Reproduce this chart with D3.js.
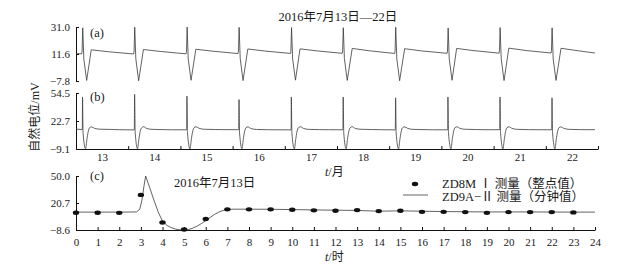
<!DOCTYPE html>
<html>
<head>
<meta charset="utf-8">
<script src="https://cdn.jsdelivr.net/npm/d3@7"></script>
<style>
  body { margin: 0; background: #fff; }
  text { font-family: "Liberation Serif", "Noto Sans CJK SC", serif; fill: #1a1a1a; }
</style>
</head>
<body>
<div id="chart"></div>
<script>
// panel (a), daily record 7.13-7.22: [day, hour, mV]
var seriesA = [
  [13, 0, 11.9], [13, 2.6, 11.7], [13, 2.8, 13.2], [13, 3.1, 30.4], [13, 3.6, 8.0], [13, 4.9, -7.4], [13, 7.0, 14.6], [13, 15, 13.2],
  [14, 2.5, 11.6], [14, 2.7, 13.0], [14, 3.0, 30.8], [14, 3.5, 8.2], [14, 4.8, -7.6], [14, 7.0, 14.8], [14, 15, 13.4],
  [15, 2.6, 11.7], [15, 2.8, 13.4], [15, 3.1, 30.9], [15, 3.6, 8.0], [15, 4.9, -7.3], [15, 7.1, 15.0], [15, 15, 13.6],
  [16, 2.5, 11.9], [16, 2.7, 13.6], [16, 3.0, 30.7], [16, 3.5, 8.4], [16, 4.8, -7.5], [16, 7.0, 15.2], [16, 15, 13.7],
  [17, 2.6, 12.0], [17, 2.8, 13.3], [17, 3.1, 30.6], [17, 3.6, 8.1], [17, 4.9, -7.2], [17, 7.0, 15.3], [17, 15, 13.8],
  [18, 2.4, 12.1], [18, 2.6, 13.8], [18, 2.9, 30.5], [18, 3.4, 8.3], [18, 4.7, -7.4], [18, 7.0, 15.6], [18, 15, 13.9],
  [19, 2.5, 12.0], [19, 2.7, 13.5], [19, 3.0, 30.8], [19, 3.5, 8.0], [19, 4.8, -7.6], [19, 7.1, 15.4], [19, 15, 13.8],
  [20, 2.6, 12.1], [20, 2.8, 13.7], [20, 3.1, 30.3], [20, 3.6, 8.2], [20, 4.9, -7.3], [20, 7.0, 15.6], [20, 15, 14.0],
  [21, 2.5, 12.2], [21, 2.7, 13.9], [21, 3.0, 30.6], [21, 3.5, 8.1], [21, 4.8, -7.5], [21, 7.0, 15.8], [21, 15, 14.1],
  [22, 2.4, 12.3], [22, 2.6, 14.0], [22, 2.9, 30.4], [22, 3.4, 8.0], [22, 4.7, -7.4], [22, 7.0, 15.7], [22, 15, 13.9], [22, 22.6, 12.3]
];

// panel (b), same days, second instrument
var seriesB = [
  [13, 0, 13.4], [13, 2.9, 13.0], [13, 3.0, 50.0], [13, 3.25, 9.0], [13, 4.4, -8.8], [13, 5.0, 1.5], [13, 5.6, 10.5], [13, 6.3, 15.2], [13, 7.2, 16.0], [13, 8.6, 14.3], [13, 11, 13.4], [13, 16, 13.1], [13, 20, 12.8],
  [14, 2.8, 12.6], [14, 2.95, 53.0], [14, 3.2, 10.0], [14, 4.3, -8.9], [14, 4.9, 1.8], [14, 5.5, 10.8], [14, 6.2, 15.0], [14, 7.1, 16.2], [14, 8.5, 14.2], [14, 11, 13.2], [14, 16, 12.9], [14, 20, 12.7],
  [15, 2.9, 12.7], [15, 3.0, 51.0], [15, 3.25, 9.5], [15, 4.4, -9.0], [15, 5.0, 1.4], [15, 5.6, 10.4], [15, 6.3, 15.1], [15, 7.2, 16.1], [15, 8.6, 14.4], [15, 11, 13.3], [15, 16, 13.0], [15, 20, 12.9],
  [16, 2.8, 12.8], [16, 2.95, 47.0], [16, 3.2, 9.2], [16, 4.3, -8.8], [16, 4.9, 1.6], [16, 5.5, 10.6], [16, 6.2, 15.3], [16, 7.1, 16.0], [16, 8.5, 14.1], [16, 11, 13.1], [16, 16, 12.8], [16, 20, 12.7],
  [17, 2.9, 12.6], [17, 3.0, 50.0], [17, 3.25, 9.4], [17, 4.4, -9.0], [17, 5.0, 1.5], [17, 5.6, 10.7], [17, 6.3, 15.2], [17, 7.2, 16.1], [17, 8.6, 14.3], [17, 11, 13.2], [17, 16, 12.9], [17, 20, 12.8],
  [18, 2.7, 12.7], [18, 2.85, 50.0], [18, 3.1, 9.6], [18, 4.2, -8.9], [18, 4.8, 1.7], [18, 5.4, 10.5], [18, 6.1, 15.1], [18, 7.0, 16.2], [18, 8.4, 14.2], [18, 11, 13.3], [18, 16, 13.0], [18, 20, 12.8],
  [19, 2.8, 12.6], [19, 2.95, 49.0], [19, 3.2, 9.3], [19, 4.3, -9.0], [19, 4.9, 1.5], [19, 5.5, 10.6], [19, 6.2, 15.2], [19, 7.1, 16.0], [19, 8.5, 14.3], [19, 11, 13.2], [19, 16, 12.9], [19, 20, 12.7],
  [20, 2.9, 12.7], [20, 3.0, 50.0], [20, 3.25, 9.5], [20, 4.4, -8.9], [20, 5.0, 1.6], [20, 5.6, 10.6], [20, 6.3, 15.3], [20, 7.2, 16.1], [20, 8.6, 14.2], [20, 11, 13.3], [20, 16, 13.0], [20, 20, 12.8],
  [21, 2.8, 12.8], [21, 2.95, 50.0], [21, 3.2, 9.4], [21, 4.3, -9.0], [21, 4.9, 1.5], [21, 5.5, 10.7], [21, 6.2, 15.2], [21, 7.1, 16.1], [21, 8.5, 14.3], [21, 11, 13.2], [21, 16, 12.9], [21, 20, 12.8],
  [22, 2.7, 12.7], [22, 2.85, 49.0], [22, 3.1, 9.5], [22, 4.2, -8.9], [22, 4.8, 1.6], [22, 5.4, 10.6], [22, 6.1, 15.2], [22, 7.0, 16.0], [22, 8.4, 14.2], [22, 11, 13.2], [22, 16, 12.9], [22, 22.6, 12.8]
];

// panel (c), 7.13 only
var hourlyValues = [10.2, 10.2, 10.0, 29.5, -0.4, -8.0, 3.3, 13.8, 13.8, 13.8, 13.4, 12.7,
                    12.3, 13.0, 11.9, 12.3, 11.1, 11.1, 10.8, 10.0, 10.8, 10.8, 10.8, 10.5];
var minuteHours  = [0, 1, 2, 2.8, 2.95, 3.05, 3.15, 3.22, 3.4, 3.6, 3.8, 4.0, 4.2, 4.4, 4.6, 4.8, 5.0, 5.2, 5.4, 5.6, 5.8, 6.0, 6.2, 6.4, 6.6, 6.8, 7.0, 7.3, 9, 11, 13, 14, 15, 17, 19, 21, 23, 24];
var minuteValues = [10.8, 10.8, 10.8, 11.0, 14.0, 24.0, 40.0, 50.0, 38.0, 24.0, 11.0, 1.0, -3.5, -6.0, -7.6, -8.4, -8.6, -8.1, -6.6, -4.4, -1.6, 1.6, 5.0, 8.2, 10.8, 12.6, 13.6, 14.0, 13.9, 13.2, 12.6, 11.8, 12.2, 11.4, 11.0, 11.0, 10.8, 10.8];

var dayLabels = ["13", "14", "15", "16", "17", "18", "19", "20", "21", "22"];
var dayBounds = [13, 14, 15, 16, 17, 18, 19, 20, 21, 22, 23];
var hourTicks = d3.range(0, 25);
var yTicksA = [-7.8, 11.6, 31.0];
var yTicksB = [-9.1, 22.7, 54.5];
var yTicksC = [-8.6, 20.7, 50.0];

var W = 622, H = 269;
var svg = d3.select("#chart").append("svg").attr("width", W).attr("height", H);
svg.append("rect").attr("width", W).attr("height", H).attr("fill", "#fff");

var xDay = d3.scaleLinear().domain([13, 23]).range([76, 598]);
var yA = d3.scaleLinear().domain([-7.8, 31.0]).range([81, 27]);
var yB = d3.scaleLinear().domain([-9.1, 54.5]).range([149, 93]);
var xHour = d3.scaleLinear().domain([0, 24]).range([76, 595]);
var yC = d3.scaleLinear().domain([-8.6, 50.0]).range([230, 176]);

var fmt = d3.format(".1f");

function styleAxis(g, size) {
  g.attr("font-family", '"Liberation Serif", serif').attr("font-size", size);
  g.selectAll("path, line").attr("stroke", "#111");
  g.selectAll("text").attr("fill", "#1a1a1a");
}

// y axes
[[yA, yTicksA], [yB, yTicksB], [yC, yTicksC]].forEach(function (p) {
  svg.append("g")
    .attr("transform", "translate(76,0)")
    .call(d3.axisLeft(p[0]).tickValues(p[1]).tickSize(-3).tickSizeOuter(0).tickPadding(6).tickFormat(fmt))
    .call(styleAxis, 11);
});

// day axis under (b)
svg.append("g")
  .attr("transform", "translate(0,149)")
  .call(d3.axisBottom(xDay).tickValues(dayBounds).tickSize(-3).tickSizeOuter(0).tickFormat(""))
  .call(styleAxis, 11);
svg.append("g")
  .attr("transform", "translate(0,149)")
  .call(d3.axisBottom(xDay).tickValues(dayLabels.map(function (d) { return +d + 0.5; }))
    .tickSize(0).tickPadding(4).tickFormat(function (d, i) { return dayLabels[i]; }))
  .call(styleAxis, 11)
  .call(function (g) { g.select(".domain").remove(); });

// hour axis under (c)
svg.append("g")
  .attr("transform", "translate(0,230)")
  .call(d3.axisBottom(xHour).tickValues(hourTicks).tickSize(-3).tickSizeOuter(0).tickPadding(8).tickFormat(d3.format("d")))
  .call(styleAxis, 11);

var lineColor = "#3a3a3a";

var lineA = d3.line()
  .x(function (d) { return xDay(d[0] + d[1] / 24); })
  .y(function (d) { return yA(d[2]); });
svg.append("path").datum(seriesA).attr("d", lineA)
  .attr("fill", "none").attr("stroke", lineColor).attr("stroke-width", 0.8);

var lineB = d3.line()
  .x(function (d) { return xDay(d[0] + d[1] / 24); })
  .y(function (d) { return yB(d[2]); })
  .curve(d3.curveMonotoneX);
svg.append("path").datum(seriesB).attr("d", lineB)
  .attr("fill", "none").attr("stroke", lineColor).attr("stroke-width", 0.8);

var lineC = d3.line()
  .x(function (d, i) { return xHour(minuteHours[i]); })
  .y(function (d) { return yC(d); });
svg.append("path").datum(minuteValues).attr("d", lineC)
  .attr("fill", "none").attr("stroke", lineColor).attr("stroke-width", 0.8);

svg.append("g").selectAll("ellipse")
  .data(hourlyValues)
  .enter()
  .append("ellipse")
  .attr("cx", function (d, i) { return xHour(i); })
  .attr("cy", function (d) { return yC(d); })
  .attr("rx", 3.2).attr("ry", 2.2)
  .attr("fill", "#111");

// texts
function label(x, y, str, size, anchor) {
  return svg.append("text").attr("x", x).attr("y", y)
    .attr("font-size", size).attr("text-anchor", anchor || "start").text(str);
}
label(338, 21, "2016年7月13日—22日", 12.5, "middle");
label(90, 37, "(a)", 12.5);
label(90, 101, "(b)", 12.5);
label(90, 180, "(c)", 12.5);
label(174, 187, "2016年7月13日", 12.5);

svg.append("text")
  .attr("transform", "translate(39,117) rotate(-90)")
  .attr("text-anchor", "middle").attr("font-size", 12)
  .text("自然电位/mV");

var tm = svg.append("text").attr("x", 325).attr("y", 176).attr("font-size", 12);
tm.append("tspan").attr("font-style", "italic").text("t");
tm.append("tspan").text("/月");
var th = svg.append("text").attr("x", 325).attr("y", 261).attr("font-size", 12);
th.append("tspan").attr("font-style", "italic").text("t");
th.append("tspan").text("/时");

// legend
svg.append("ellipse").attr("cx", 415).attr("cy", 184).attr("rx", 3.2).attr("ry", 2.2).attr("fill", "#111");
label(442, 188, "ZD8M Ⅰ 测量（整点值）", 12.5);
svg.append("line").attr("x1", 403).attr("x2", 428).attr("y1", 195).attr("y2", 195)
  .attr("stroke", lineColor).attr("stroke-width", 0.8);
label(442, 201, "ZD9A−Ⅱ 测量（分钟值）", 12.5);
</script>
</body>
</html>
